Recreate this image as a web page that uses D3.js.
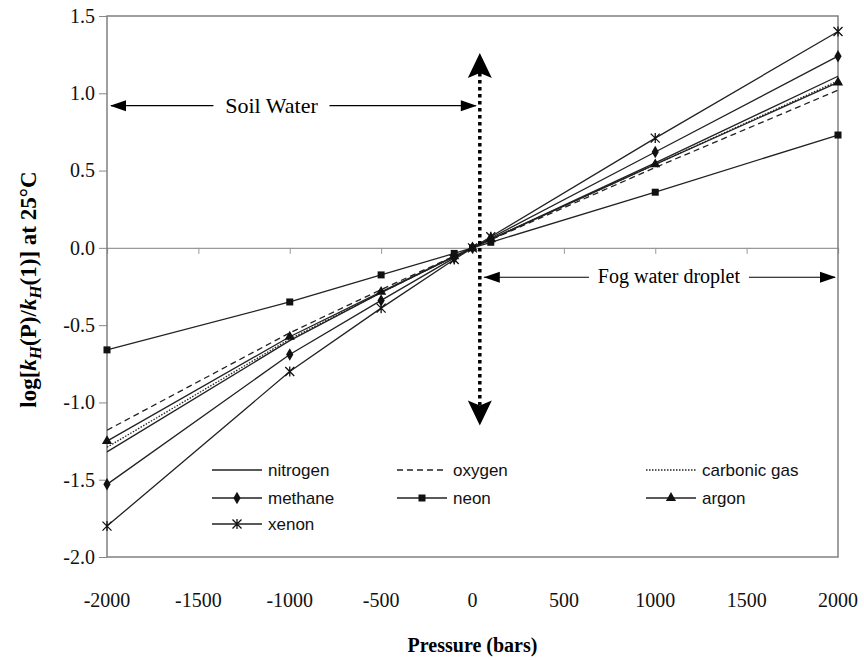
<!DOCTYPE html>
<html>
<head>
<meta charset="utf-8">
<script src="https://cdn.jsdelivr.net/npm/d3@7"></script>
<style>
  body { margin: 0; background: #fff; }
  svg text { font-family: "Liberation Serif", "Times New Roman", serif; }
  svg text.sans { font-family: "Liberation Sans", Arial, sans-serif; }
</style>
</head>
<body>
<div id="chart"></div>
<script>
var pressures = [-2000, -1000, -500, -100, 0, 100, 1000, 2000];
var nitrogen = [-1.32, -0.60, -0.29, -0.057, 0, 0.056, 0.55, 1.11];
var oxygen = [-1.18, -0.55, -0.27, -0.053, 0, 0.052, 0.52, 1.02];
var carbonic = [-1.29, -0.59, -0.29, -0.056, 0, 0.055, 0.54, 1.08];
var methane = [-1.53, -0.69, -0.34, -0.065, 0, 0.064, 0.62, 1.24];
var neon = [-0.66, -0.35, -0.175, -0.036, 0, 0.036, 0.36, 0.73];
var argon = [-1.25, -0.575, -0.285, -0.055, 0, 0.055, 0.54, 1.07];
var xenon = [-1.80, -0.80, -0.39, -0.075, 0, 0.072, 0.71, 1.40];

var xTicks = [-2000, -1500, -1000, -500, 0, 500, 1000, 1500, 2000];
var yTicks = [-2.0, -1.5, -1.0, -0.5, 0.0, 0.5, 1.0, 1.5];

var series = [
  { name: "nitrogen", values: nitrogen, dash: null, marker: null },
  { name: "oxygen", values: oxygen, dash: "6,4", marker: null },
  { name: "carbonic gas", values: carbonic, dash: "1.5,1.5", marker: null },
  { name: "methane", values: methane, dash: null, marker: "diamond" },
  { name: "neon", values: neon, dash: null, marker: "square" },
  { name: "argon", values: argon, dash: null, marker: "triangle" },
  { name: "xenon", values: xenon, dash: null, marker: "star" }
];

var width = 864, height = 660,
  margin = { left: 107, right: 26, top: 16, bottom: 103 };

var svg = d3.select("#chart").append("svg")
  .attr("width", width)
  .attr("height", height);

var x = d3.scaleLinear().domain([-2000, 2000]).range([margin.left, width - margin.right]);
var y = d3.scaleLinear().domain([-2, 1.5]).range([height - margin.bottom, margin.top]);

// zero line with x ticks hanging below it
var xAxis = svg.append("g")
  .attr("transform", "translate(0," + y(0) + ")")
  .call(d3.axisBottom(x).tickValues(xTicks).tickSize(6).tickFormat(""));
xAxis.select(".domain").attr("stroke", "#999").attr("stroke-width", 1.2);
xAxis.selectAll(".tick line").attr("stroke", "#999");

// x tick labels under the box
svg.append("g").selectAll("text")
  .data(xTicks)
  .enter().append("text")
  .attr("x", function (d) { return x(d); })
  .attr("y", height - margin.bottom + 50)
  .attr("text-anchor", "middle")
  .style("font-family", "'Liberation Serif', serif")
  .style("font-size", "20px")
  .attr("fill", "#111")
  .text(function (d) { return d; });

// y axis
var yAxis = svg.append("g")
  .attr("transform", "translate(" + margin.left + ",0)")
  .call(d3.axisLeft(y).tickValues(yTicks).tickSize(8).tickPadding(4));
yAxis.select(".domain").remove();
yAxis.selectAll(".tick line").attr("stroke", "#888");
yAxis.selectAll("text")
  .style("font-family", "'Liberation Serif', serif")
  .style("font-size", "20px")
  .attr("fill", "#111")
  .text(function (d) { return d3.format(".1f")(d).replace("−", "-"); });

// plot box
svg.append("rect")
  .attr("x", x(-2000)).attr("y", y(1.5))
  .attr("width", x(2000) - x(-2000))
  .attr("height", y(-2) - y(1.5))
  .attr("fill", "none")
  .attr("stroke", "#808080")
  .attr("stroke-width", 1.5);

// lines
var line = d3.line()
  .x(function (d, i) { return x(pressures[i]); })
  .y(function (d) { return y(d); });

svg.append("g").selectAll("path")
  .data(series)
  .enter().append("path")
  .attr("d", function (d) { return line(d.values); })
  .attr("fill", "none")
  .attr("stroke", "#222")
  .attr("stroke-width", 1.3)
  .attr("stroke-dasharray", function (d) { return d.dash; });

function drawMarker(g, type, cx, cy) {
  if (type === "diamond") {
    g.append("path").attr("d", d3.symbol(d3.symbolDiamond, 45)())
      .attr("transform", "translate(" + cx + "," + cy + ")").attr("fill", "#111");
  } else if (type === "square") {
    g.append("rect").attr("x", cx - 3.5).attr("y", cy - 3.5).attr("width", 7).attr("height", 7).attr("fill", "#111");
  } else if (type === "triangle") {
    g.append("path").attr("d", d3.symbol(d3.symbolTriangle, 45)())
      .attr("transform", "translate(" + cx + "," + cy + ")").attr("fill", "#111");
  } else if (type === "star") {
    g.append("path")
      .attr("d", "M" + (cx - 4.5) + "," + (cy - 4.5) + "L" + (cx + 4.5) + "," + (cy + 4.5) +
        "M" + (cx + 4.5) + "," + (cy - 4.5) + "L" + (cx - 4.5) + "," + (cy + 4.5) +
        "M" + cx + "," + (cy - 5) + "L" + cx + "," + (cy + 5))
      .attr("stroke", "#111").attr("stroke-width", 1.3).attr("fill", "none");
  }
}

var markerG = svg.append("g");
series.forEach(function (s) {
  if (!s.marker) return;
  s.values.forEach(function (v, i) {
    drawMarker(markerG, s.marker, x(pressures[i]), y(v));
  });
});

// legend
var legendCols = [212, 397, 646], legendRows = [470, 498, 524];
var legend = svg.append("g");
series.forEach(function (s, i) {
  var lx = legendCols[i % 3], ly = legendRows[Math.floor(i / 3)];
  legend.append("line")
    .attr("x1", lx).attr("x2", lx + 50).attr("y1", ly).attr("y2", ly)
    .attr("stroke", "#222").attr("stroke-width", 1.3)
    .attr("stroke-dasharray", s.dash);
  if (s.marker) drawMarker(legend, s.marker, lx + 25, ly);
  legend.append("text")
    .attr("class", "sans")
    .attr("x", lx + 56).attr("y", ly + 6)
    .attr("font-size", 17)
    .attr("fill", "#111")
    .text(s.name);
});

// annotations
var arrowP = 40, arrowTop = 1.26, arrowBottom = -1.15;
var soilY = 0.92, fogY = -0.19;

function head(g, tipX, tipY, dir, len, w) {
  var p;
  if (dir === "left") p = [[tipX, tipY], [tipX + len, tipY - w / 2], [tipX + len, tipY + w / 2]];
  if (dir === "right") p = [[tipX, tipY], [tipX - len, tipY - w / 2], [tipX - len, tipY + w / 2]];
  if (dir === "up") p = [[tipX, tipY], [tipX - w / 2, tipY + len], [tipX, tipY + len * 0.8], [tipX + w / 2, tipY + len]];
  if (dir === "down") p = [[tipX, tipY], [tipX - w / 2, tipY - len], [tipX, tipY - len * 0.8], [tipX + w / 2, tipY - len]];
  g.append("path").attr("d", "M" + p.join("L") + "Z").attr("fill", "#000");
}

var ann = svg.append("g");
// vertical dotted arrow
ann.append("line")
  .attr("x1", x(arrowP)).attr("x2", x(arrowP))
  .attr("y1", y(arrowTop) + 20).attr("y2", y(arrowBottom) - 20)
  .attr("stroke", "#000").attr("stroke-width", 3.5)
  .attr("stroke-dasharray", "3.5,3.5");
head(ann, x(arrowP), y(arrowTop), "up", 25, 24);
head(ann, x(arrowP), y(arrowBottom), "down", 25, 24);

// Soil Water
ann.append("line")
  .attr("x1", x(-2000) + 4).attr("x2", x(arrowP) - 4)
  .attr("y1", y(soilY)).attr("y2", y(soilY))
  .attr("stroke", "#000").attr("stroke-width", 1.2);
head(ann, x(-2000) + 3, y(soilY), "left", 16, 11);
head(ann, x(arrowP) - 3, y(soilY), "right", 16, 11);
ann.append("rect")
  .attr("x", x(-1100) - 58).attr("y", y(soilY) - 13)
  .attr("width", 116).attr("height", 26).attr("fill", "#fff");
ann.append("text")
  .attr("x", x(-1100)).attr("y", y(soilY) + 7)
  .attr("text-anchor", "middle").attr("font-size", 22)
  .text("Soil Water");

// Fog water droplet
ann.append("line")
  .attr("x1", x(arrowP) + 4).attr("x2", x(2000) - 3)
  .attr("y1", y(fogY)).attr("y2", y(fogY))
  .attr("stroke", "#000").attr("stroke-width", 1.2);
head(ann, x(arrowP) + 4, y(fogY), "left", 16, 11);
head(ann, x(2000) - 2, y(fogY), "right", 16, 11);
ann.append("rect")
  .attr("x", x(1075) - 80).attr("y", y(fogY) - 12)
  .attr("width", 160).attr("height", 24).attr("fill", "#fff");
ann.append("text")
  .attr("x", x(1075)).attr("y", y(fogY) + 6)
  .attr("text-anchor", "middle").attr("font-size", 20)
  .text("Fog water droplet");

// axis titles
svg.append("text")
  .attr("x", (x(-2000) + x(2000)) / 2)
  .attr("y", height - 8)
  .attr("text-anchor", "middle")
  .attr("font-size", 20)
  .attr("font-weight", "bold")
  .text("Pressure (bars)");

var yt = svg.append("text")
  .attr("transform", "translate(36," + (y(-0.27)) + ") rotate(-90)")
  .attr("text-anchor", "middle")
  .attr("font-size", 23)
  .attr("font-weight", "bold");
yt.append("tspan").text("log[");
yt.append("tspan").attr("font-style", "italic").text("k");
yt.append("tspan").attr("font-style", "italic").attr("font-size", 17).attr("dy", 5).text("H");
yt.append("tspan").attr("dy", -5).text("(P)/");
yt.append("tspan").attr("font-style", "italic").text("k");
yt.append("tspan").attr("font-style", "italic").attr("font-size", 17).attr("dy", 5).text("H");
yt.append("tspan").attr("dy", -5).text("(1)] at 25°C");
</script>
</body>
</html>
